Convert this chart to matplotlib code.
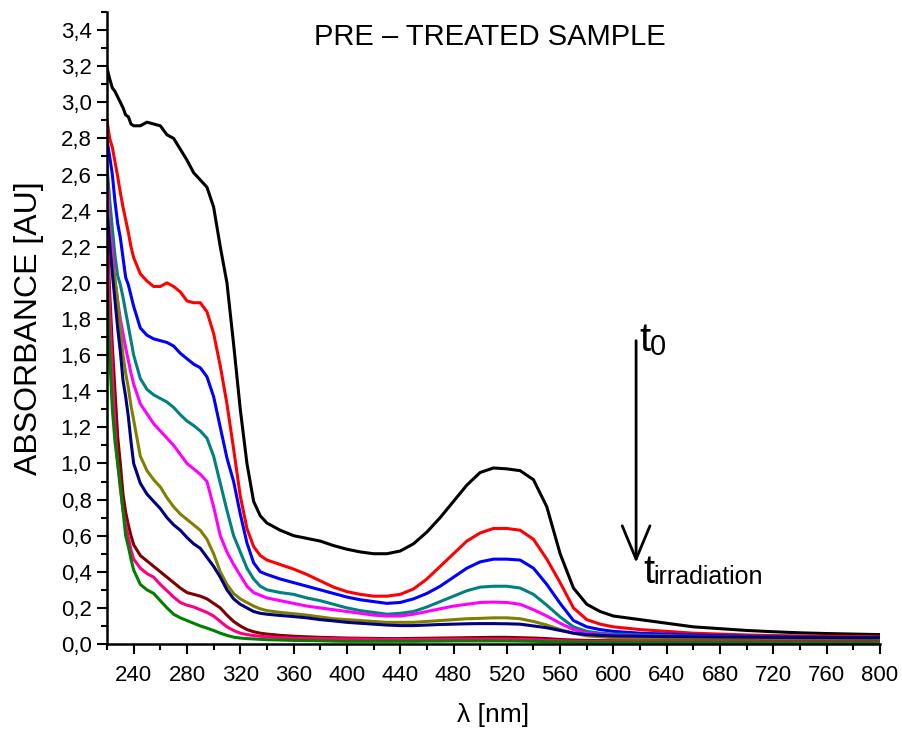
import matplotlib
matplotlib.use("Agg")
import matplotlib.pyplot as plt
from matplotlib.ticker import MultipleLocator, FuncFormatter

plt.rcParams['font.family'] = ['Liberation Sans', 'DejaVu Sans']

# wavelength grid [nm]
wavelength = [220, 222, 224, 226, 228, 230, 232, 234, 236, 238, 240,
              245, 250, 255, 260, 265, 270, 275, 280, 285, 290, 295, 300,
              305, 310, 315, 320, 325, 330, 335, 340,
              350, 360, 370, 380, 390, 400, 410, 420, 430, 440, 450, 460,
              470, 480, 490, 500, 510, 520, 530, 540, 550, 560, 570, 580,
              590, 600, 620, 640, 660, 680, 700, 720, 740, 760, 780, 800]

# absorbance spectra, from t0 down to the final irradiation time
abs_t0 = [3.19, 3.13, 3.08, 3.06, 3.03, 3.00, 2.97, 2.93, 2.92, 2.88, 2.87,
          2.87, 2.89, 2.88, 2.87, 2.82, 2.80, 2.74, 2.68, 2.61, 2.57, 2.53, 2.42,
          2.20, 2.00, 1.66, 1.30, 1.00, 0.79, 0.71, 0.67,
          0.63, 0.60, 0.585, 0.57, 0.545, 0.525, 0.51, 0.50, 0.50, 0.515, 0.555, 0.62,
          0.70, 0.79, 0.88, 0.95, 0.975, 0.97, 0.96, 0.91, 0.76, 0.50, 0.31, 0.22,
          0.18, 0.155, 0.135, 0.115, 0.095, 0.085, 0.075, 0.068, 0.062, 0.058, 0.055, 0.052]

abs_t1 = [2.90, 2.80, 2.75, 2.67, 2.59, 2.50, 2.42, 2.35, 2.28, 2.20, 2.14,
          2.05, 2.01, 1.98, 1.98, 2.00, 1.98, 1.95, 1.90, 1.89, 1.89, 1.84, 1.72,
          1.54, 1.33, 1.08, 0.82, 0.64, 0.54, 0.49, 0.465,
          0.44, 0.415, 0.385, 0.35, 0.315, 0.29, 0.275, 0.265, 0.265, 0.275, 0.305, 0.36,
          0.43, 0.50, 0.57, 0.615, 0.64, 0.64, 0.63, 0.58, 0.47, 0.34, 0.20, 0.135,
          0.11, 0.095, 0.08, 0.07, 0.06, 0.055, 0.05, 0.047, 0.045, 0.043, 0.042, 0.04]

abs_t2 = [2.79, 2.70, 2.60, 2.45, 2.33, 2.25, 2.14, 2.03, 1.99, 1.93, 1.87,
          1.75, 1.71, 1.69, 1.68, 1.67, 1.65, 1.61, 1.58, 1.55, 1.53, 1.48, 1.37,
          1.20, 1.03, 0.90, 0.72, 0.56, 0.45, 0.40, 0.385,
          0.36, 0.34, 0.32, 0.30, 0.28, 0.26, 0.245, 0.235, 0.225, 0.23, 0.25, 0.28,
          0.32, 0.37, 0.42, 0.455, 0.47, 0.47, 0.465, 0.42, 0.33, 0.225, 0.13, 0.095,
          0.08, 0.07, 0.06, 0.055, 0.05, 0.046, 0.043, 0.041, 0.039, 0.037, 0.036, 0.035]

abs_t3 = [2.65, 2.46, 2.30, 2.15, 2.04, 1.99, 1.92, 1.84, 1.76, 1.68, 1.60,
          1.47, 1.41, 1.38, 1.36, 1.34, 1.31, 1.27, 1.235, 1.21, 1.18, 1.14, 1.04,
          0.89, 0.74, 0.60, 0.51, 0.42, 0.36, 0.32, 0.30,
          0.285, 0.275, 0.255, 0.24, 0.22, 0.20, 0.185, 0.175, 0.165, 0.17, 0.18, 0.205,
          0.235, 0.265, 0.295, 0.315, 0.32, 0.32, 0.31, 0.275, 0.215, 0.15, 0.095, 0.07,
          0.06, 0.055, 0.05, 0.046, 0.043, 0.041, 0.039, 0.038, 0.037, 0.036, 0.035, 0.035]

abs_t4 = [2.60, 2.31, 2.18, 2.01, 1.90, 1.80, 1.72, 1.64, 1.57, 1.50, 1.44,
          1.33, 1.275, 1.22, 1.18, 1.14, 1.10, 1.05, 1.00, 0.97, 0.94, 0.90, 0.76,
          0.60, 0.51, 0.44, 0.38, 0.32, 0.285, 0.27, 0.255,
          0.24, 0.225, 0.21, 0.20, 0.19, 0.18, 0.17, 0.16, 0.155, 0.155, 0.165, 0.18,
          0.195, 0.21, 0.22, 0.23, 0.232, 0.23, 0.22, 0.19, 0.155, 0.115, 0.08, 0.06,
          0.052, 0.048, 0.044, 0.041, 0.039, 0.037, 0.035, 0.034, 0.033, 0.032, 0.031, 0.03]

abs_t5 = [2.45, 2.25, 2.10, 2.02, 1.90, 1.75, 1.60, 1.50, 1.42, 1.32, 1.24,
          1.04, 0.96, 0.91, 0.87, 0.81, 0.76, 0.72, 0.69, 0.66, 0.63, 0.58, 0.50,
          0.40, 0.33, 0.28, 0.25, 0.23, 0.21, 0.195, 0.185,
          0.175, 0.168, 0.16, 0.15, 0.14, 0.135, 0.13, 0.125, 0.12, 0.12, 0.12, 0.125,
          0.13, 0.135, 0.14, 0.142, 0.145, 0.145, 0.14, 0.125, 0.105, 0.08, 0.06, 0.045,
          0.04, 0.035, 0.033, 0.032, 0.031, 0.03, 0.03, 0.029, 0.029, 0.028, 0.028, 0.028]

abs_t6 = [2.40, 2.22, 2.05, 1.90, 1.75, 1.62, 1.46, 1.37, 1.26, 1.12, 1.00,
          0.89, 0.83, 0.79, 0.75, 0.70, 0.66, 0.63, 0.59, 0.555, 0.53, 0.48, 0.43,
          0.37, 0.30, 0.25, 0.22, 0.20, 0.18, 0.17, 0.165,
          0.158, 0.152, 0.145, 0.135, 0.128, 0.12, 0.115, 0.11, 0.105, 0.102, 0.102, 0.105,
          0.108, 0.11, 0.112, 0.113, 0.113, 0.112, 0.11, 0.10, 0.09, 0.075, 0.06, 0.052,
          0.048, 0.045, 0.043, 0.041, 0.04, 0.039, 0.038, 0.037, 0.036, 0.036, 0.035, 0.035]

abs_t7 = [2.30, 1.95, 1.65, 1.40, 1.15, 1.00, 0.83, 0.73, 0.66, 0.60, 0.55,
          0.49, 0.46, 0.43, 0.40, 0.37, 0.34, 0.31, 0.285, 0.275, 0.265, 0.25, 0.225,
          0.20, 0.16, 0.125, 0.10, 0.08, 0.068, 0.06, 0.055,
          0.048, 0.043, 0.04, 0.037, 0.035, 0.033, 0.032, 0.031, 0.03, 0.03, 0.031, 0.032,
          0.033, 0.034, 0.035, 0.036, 0.037, 0.037, 0.035, 0.033, 0.03, 0.025, 0.022, 0.02,
          0.019, 0.018, 0.017, 0.017, 0.016, 0.016, 0.016, 0.015, 0.015, 0.015, 0.015, 0.015]

abs_t8 = [2.25, 1.85, 1.50, 1.20, 1.00, 0.86, 0.74, 0.66, 0.59, 0.52, 0.47,
          0.42, 0.39, 0.37, 0.33, 0.295, 0.26, 0.23, 0.215, 0.205, 0.19, 0.175, 0.155,
          0.125, 0.095, 0.075, 0.06, 0.052, 0.047, 0.043, 0.04,
          0.035, 0.033, 0.031, 0.03, 0.029, 0.028, 0.027, 0.026, 0.025, 0.025, 0.025, 0.026,
          0.026, 0.027, 0.027, 0.027, 0.027, 0.027, 0.026, 0.024, 0.021, 0.018, 0.016, 0.015,
          0.015, 0.015, 0.014, 0.014, 0.013, 0.013, 0.013, 0.012, 0.012, 0.012, 0.012, 0.012]

abs_t9 = [2.05, 1.60, 1.30, 1.12, 1.00, 0.88, 0.74, 0.60, 0.54, 0.47, 0.41,
          0.33, 0.30, 0.28, 0.24, 0.20, 0.165, 0.145, 0.13, 0.115, 0.10, 0.088, 0.075,
          0.06, 0.048, 0.038, 0.033, 0.03, 0.028, 0.026, 0.024,
          0.022, 0.02, 0.019, 0.018, 0.016, 0.015, 0.015, 0.015, 0.015, 0.015, 0.015, 0.016,
          0.016, 0.017, 0.017, 0.017, 0.017, 0.017, 0.016, 0.015, 0.013, 0.012, 0.011, 0.01,
          0.01, 0.01, 0.01, 0.009, 0.009, 0.009, 0.009, 0.008, 0.008, 0.008, 0.008, 0.008]

spectra = [abs_t0, abs_t1, abs_t2, abs_t3, abs_t4, abs_t5, abs_t6, abs_t7, abs_t8, abs_t9]
colors = ['#000000', '#FF0000', '#0000FF', '#008080', '#FF00FF',
          '#808000', '#000080', '#800000', '#FF0080', '#008000']

x_ticks = list(range(240, 801, 40))
y_ticks = [round(0.2 * i, 1) for i in range(18)]

fig = plt.figure(figsize=(9.03, 7.33), dpi=100)
ax = fig.add_axes([0.1185, 0.1214, 0.856, 0.8622])

for ys, c in zip(spectra, colors):
    ax.plot(wavelength, ys, color=c, lw=2.2, solid_joinstyle='round')

ax.set_xlim(220, 800)
ax.set_ylim(0, 3.5)
ax.set_xticks(x_ticks)
ax.set_yticks(y_ticks)
ax.xaxis.set_minor_locator(MultipleLocator(20))
ax.yaxis.set_minor_locator(MultipleLocator(0.1))
ax.yaxis.set_major_formatter(FuncFormatter(lambda v, p: f"{v:.1f}".replace('.', ',')))

for side in ('top', 'right'):
    ax.spines[side].set_visible(False)
for side in ('left', 'bottom'):
    ax.spines[side].set_linewidth(1.8)

ax.tick_params(which='major', direction='out', length=7, width=1.5,
               labelsize=16, pad=4)
ax.tick_params(axis='x', which='major', pad=8)
ax.tick_params(which='minor', direction='out', length=4, width=1.5)

ax.set_ylabel('ABSORBANCE [AU]', fontsize=23, labelpad=12)
ax.set_xlabel('λ [nm]', fontsize=19, labelpad=12)

ax.text(0.495, 0.96, 'PRE – TREATED SAMPLE', transform=ax.transAxes,
        ha='center', va='center', fontsize=21)

# irradiation-time arrow
ax.annotate('', xy=(617, 0.45), xytext=(617, 1.68),
            arrowprops=dict(arrowstyle='->,head_length=1.2,head_width=0.5',
                            lw=2, color='black', mutation_scale=20,
                            shrinkA=0, shrinkB=0))

ax.text(619.5, 1.625, 't', fontsize=29, ha='left', va='baseline')
ax.text(627.5, 1.60, '0', fontsize=21, ha='left', va='baseline')
ax.text(622.5, 0.34, 't', fontsize=29, ha='left', va='baseline')
ax.text(630.0, 0.33, 'irradiation', fontsize=18, ha='left', va='baseline')

fig.savefig('out.png', dpi=100)
